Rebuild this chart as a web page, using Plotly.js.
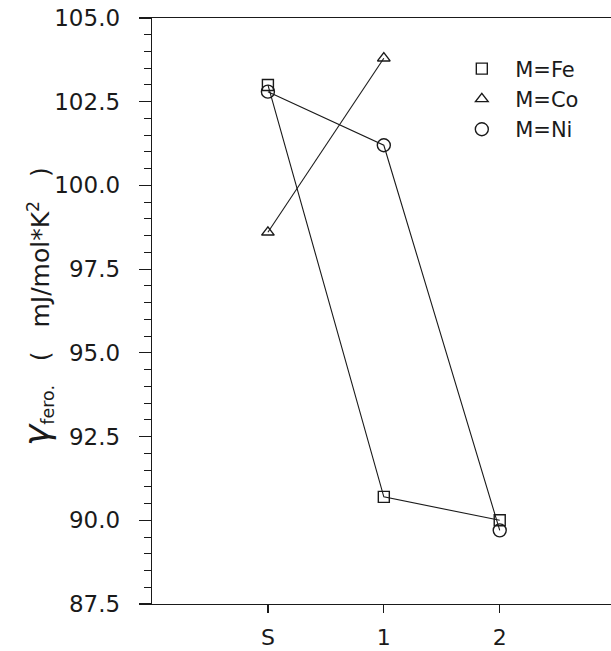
<!DOCTYPE html>
<html>
<head>
<meta charset="utf-8">
<script src="https://cdn.plot.ly/plotly-3.0.1.min.js"></script>
<style>html,body{margin:0;padding:0;background:#fff;overflow:hidden;}#chart{width:611px;height:651px;}</style>
</head>
<body>
<div id="chart"></div>
<script>
// Categories along x (sample labels)
const categories = ['S', '1', '2'];
// Series values (gamma_fero, mJ/mol*K^2)
const feValues = [103.0, 90.7, 90.0];
const coValues = [98.6, 103.8];
const niValues = [102.8, 101.2, 89.7];
const seriesNames = ['M=Fe', 'M=Co', 'M=Ni'];
// y tick values
const yTickVals = [87.5, 90.0, 92.5, 95.0, 97.5, 100.0, 102.5, 105.0];

const xIdx = (arr) => arr.map((_, i) => i);
const FONT = 'DejaVu Sans, Liberation Sans, sans-serif';
const INK = '#1a1a1a';
const SP = '\u00a0';

function lineTrace(vals) {
  return {
    x: xIdx(vals), y: vals, type: 'scatter', mode: 'lines', showlegend: false,
    line: {color: INK, width: 1.1}, hoverinfo: 'skip'
  };
}
function markerTrace(vals, name, symbol, size) {
  return {
    x: xIdx(vals), y: vals, name: SP + SP + name,
    type: 'scatter', mode: 'markers',
    marker: {symbol: symbol, size: size, color: INK, line: {color: INK, width: 1.4}}
  };
}

const data = [
  lineTrace(feValues), lineTrace(coValues), lineTrace(niValues),
  markerTrace(feValues, seriesNames[0], 'square-open', 11),
  markerTrace(coValues, seriesNames[1], 'triangle-up-open', 11),
  markerTrace(niValues, seriesNames[2], 'circle-open', 13)
];

const layout = {
  width: 611, height: 651,
  margin: {l: 152, r: 0, t: 18, b: 47, pad: 0},
  paper_bgcolor: '#fff', plot_bgcolor: '#fff',
  font: {family: FONT, color: INK, size: 23},
  showlegend: true,
  legend: {
    x: 0.675, xanchor: 'left', y: 0.948, yanchor: 'top',
    bgcolor: 'rgba(0,0,0,0)', borderwidth: 0,
    font: {family: FONT, size: 21, color: INK},
    tracegroupgap: 0, itemsizing: 'trace'
  },
  xaxis: {
    range: [-1, 2.96], tickmode: 'array', tickvals: xIdx(categories), ticktext: categories,
    showgrid: false, zeroline: false, showline: true, linecolor: INK, linewidth: 1.3,
    mirror: true, ticks: 'outside', ticklen: 8, tickwidth: 1.2, tickcolor: INK,
    ticklabelstandoff: 5,
    tickfont: {family: FONT, size: 22, color: INK}
  },
  yaxis: {
    range: [87.5, 105], tickmode: 'array', tickvals: yTickVals, tickformat: '.1f',
    showgrid: false, zeroline: false, showline: true, linecolor: INK, linewidth: 1.3,
    ticks: 'outside', ticklen: 12, tickwidth: 1.2, tickcolor: INK,
    ticklabelstandoff: 14,
    minor: {dtick: 0.5, ticks: 'outside', ticklen: 7, tickwidth: 1, tickcolor: INK, showgrid: false},
    tickfont: {family: FONT, size: 23, color: INK}
  },
  annotations: [{
    xref: 'paper', yref: 'paper', x: 0, y: 0.5, xanchor: 'center', yanchor: 'middle',
    xshift: -115, yshift: 4, textangle: -90, showarrow: false,
    text: '<span style="font-size:36px"><i>γ</i></span><sub>fero.</sub>' + SP + SP + SP + '(' + SP + SP + SP +
          'mJ/mol*K<sup>2</sup>' + SP + SP + SP + ')',
    font: {family: FONT, size: 25, color: INK}
  }]
};

Plotly.newPlot('chart', data, layout, {displayModeBar: false, staticPlot: true});
</script>
</body>
</html>
